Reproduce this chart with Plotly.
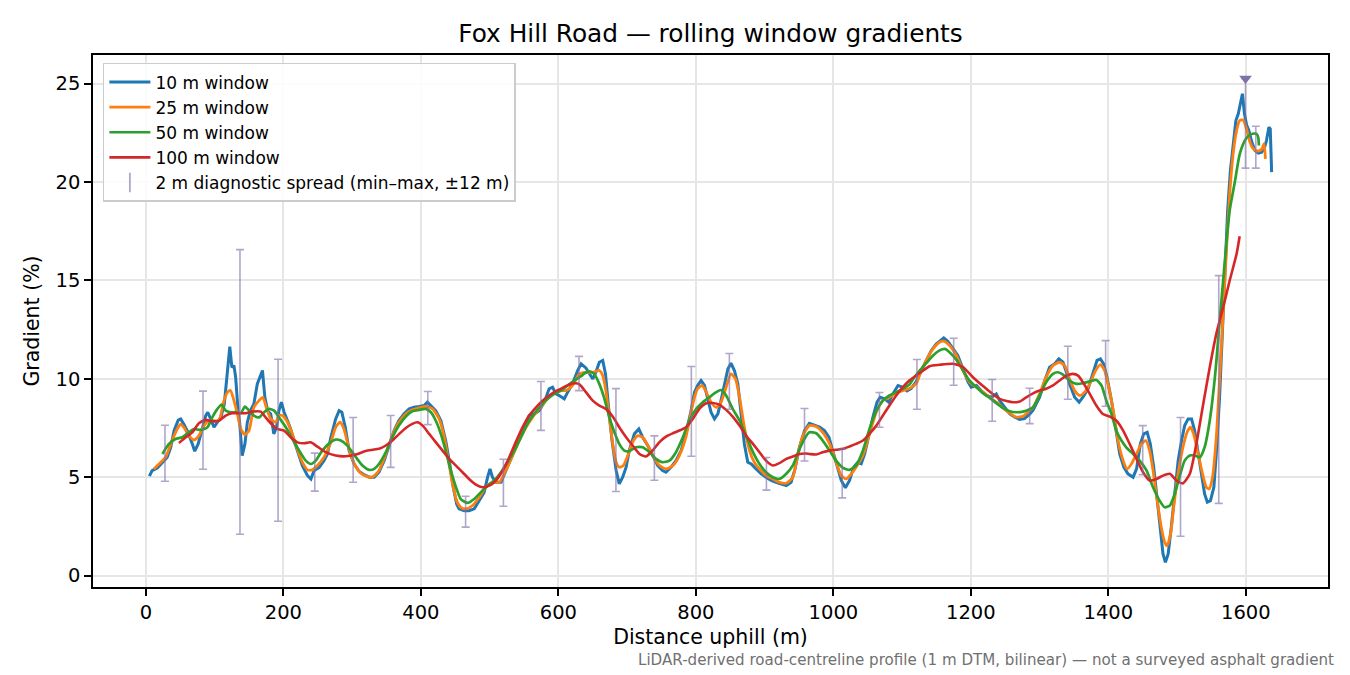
import plotly.graph_objects as go

# ---------------- data ----------------
W10_D = [5, 9, 16.5, 24, 31, 36, 41, 47, 50.5, 55, 60, 67.5, 71, 76, 82, 87, 90, 94, 99, 104, 109, 114, 118, 122, 125, 128, 130.5, 134, 136.5, 140, 144, 147.5, 152, 157, 162, 165.5, 169.5, 173, 177, 181.5, 186, 190, 193.5, 197, 201, 206, 210.5, 215.5, 222, 227.5, 235, 240, 244.5, 252, 259, 264, 269, 276, 281, 285, 290, 295.5, 303, 310, 317, 325, 332, 339, 346.5, 354, 361, 368, 375.5, 383, 390, 397.5, 404.5, 409.5, 414.5, 421.5, 429, 436, 442, 447, 452, 455.5, 463, 470, 477.5, 485, 492, 497, 500.5, 504, 509, 516.5, 523.5, 531, 538, 545.5, 553, 557.5, 565, 572, 579.5, 586.5, 591.5, 596.5, 601, 608.5, 613.5, 620.5, 628, 633, 640, 645, 650, 654.5, 659.5, 664.5, 668.5, 673, 678, 684, 688.5, 693.5, 698.5, 703, 710.5, 717, 722.5, 730, 737, 744.5, 751.5, 756.5, 764, 771, 778.5, 785.5, 793, 798, 802.5, 807.5, 812.5, 817, 822, 827, 832, 836.5, 841.5, 846.5, 851, 856, 861, 866, 870.5, 875.5, 880.5, 887.5, 895, 902, 909.5, 916.5, 924, 931.5, 938.5, 944, 950.5, 958, 965, 972.5, 980, 987, 993.5, 999, 1005, 1011.5, 1017.5, 1023.5, 1029.5, 1035.5, 1040.5, 1045.5, 1051.5, 1057.5, 1063.5, 1068, 1074.5, 1080.5, 1086.5, 1094, 1101, 1107, 1113, 1120.5, 1128, 1135, 1142.5, 1149.5, 1157, 1160.5, 1166.5, 1174, 1181, 1188.5, 1196, 1200.5, 1208, 1215, 1222.5, 1230, 1237, 1242, 1249, 1256.5, 1264, 1271, 1278, 1285.5, 1290.5, 1300, 1307.5, 1314.5, 1322, 1328, 1334, 1339, 1343.5, 1351, 1357.5, 1363, 1370.5, 1377.5, 1383.5, 1388.5, 1393, 1398, 1404.5, 1410.5, 1416.5, 1422.5, 1428.5, 1436, 1441, 1446.5, 1451.5, 1456.5, 1461, 1466, 1471, 1475.5, 1479.5, 1483, 1487, 1491.5, 1496.5, 1501.5, 1506.5, 1511, 1516, 1521, 1525.5, 1530.5, 1535.5, 1540, 1544, 1548.5, 1553.5, 1558, 1562, 1566, 1570, 1573.5, 1577.5, 1581.5, 1585.5, 1589, 1592.5, 1595, 1598, 1601, 1604.5, 1608, 1613, 1618, 1623, 1626.5, 1630, 1633.5, 1635.5, 1637.5]
W10_G = [5.05, 5.33, 5.47, 5.76, 6.01, 6.5, 7.37, 7.9, 7.96, 7.7, 7.37, 6.69, 6.32, 6.69, 7.54, 8.13, 8.3, 7.96, 7.54, 7.79, 8.04, 8.72, 10.25, 11.63, 10.58, 10.67, 10.08, 8.38, 7.7, 6.1, 6.69, 7.79, 8.38, 8.72, 9.74, 10.08, 10.42, 9.06, 8.38, 8.21, 7.2, 7.54, 8.38, 8.81, 8.3, 7.87, 7.45, 6.86, 6.18, 5.59, 5.08, 4.91, 5.33, 5.5, 5.84, 6.18, 7.03, 7.96, 8.38, 8.3, 7.54, 6.35, 5.67, 5.3, 5.13, 5.0, 5.0, 5.25, 5.84, 6.69, 7.37, 7.88, 8.22, 8.47, 8.55, 8.59, 8.64, 8.81, 8.64, 8.38, 7.88, 6.86, 5.67, 4.49, 3.64, 3.39, 3.3, 3.3, 3.39, 3.81, 4.23, 5.0, 5.42, 5.0, 4.74, 4.74, 5.34, 5.93, 6.52, 7.11, 7.79, 8.13, 8.22, 8.38, 8.81, 9.49, 9.57, 9.23, 9.15, 8.98, 9.32, 9.74, 10.42, 10.76, 10.55, 10.25, 9.99, 10.33, 10.84, 10.93, 10.25, 8.55, 6.86, 5.34, 4.66, 5.0, 5.51, 6.35, 7.2, 7.45, 7.03, 6.61, 6.1, 5.59, 5.34, 5.25, 5.51, 5.84, 6.35, 7.2, 8.38, 9.32, 9.66, 9.91, 9.66, 9.06, 8.3, 7.96, 8.22, 8.89, 9.74, 10.5, 10.79, 10.42, 9.74, 8.22, 6.69, 5.76, 5.67, 5.42, 5.17, 5.0, 4.83, 4.74, 4.66, 4.57, 4.74, 5.4, 6.5, 7.37, 7.74, 7.62, 7.54, 7.37, 7.03, 6.35, 5.59, 4.83, 4.46, 4.83, 5.51, 5.76, 5.68, 6.18, 7.11, 8.05, 8.81, 9.06, 8.98, 8.81, 9.23, 9.66, 9.57, 9.38, 9.5, 9.85, 10.42, 10.93, 11.44, 11.77, 11.98, 12.08, 11.91, 11.52, 11.18, 10.5, 9.83, 9.57, 9.66, 9.4, 9.15, 9.06, 9.23, 8.89, 8.55, 8.22, 8.05, 7.93, 7.98, 8.2, 8.4, 9.06, 9.91, 10.59, 10.76, 11.01, 10.84, 10.33, 9.74, 9.06, 8.81, 9.06, 9.49, 10.25, 10.93, 11.01, 10.76, 10.08, 8.89, 7.54, 6.18, 5.51, 5.17, 5.0, 5.42, 6.69, 7.2, 7.28, 6.69, 5.51, 3.81, 2.12, 1.1, 0.67, 1.1, 2.45, 4.15, 5.84, 6.86, 7.62, 7.96, 7.96, 7.37, 6.18, 5.0, 4.15, 3.73, 3.81, 4.49, 6.69, 9.23, 12.62, 16.01, 18.55, 20.58, 21.94, 23.12, 23.46, 24.14, 24.48, 23.46, 22.9, 22.6, 22.1, 21.6, 21.46, 21.51, 21.68, 22.1, 22.78, 22.7, 20.5]

W25_D = [11.5, 19, 28.5, 38, 45.5, 50.5, 55, 62.5, 70, 77, 84.5, 91.5, 99, 106, 113.5, 118.5, 123, 128, 133, 138, 144, 150, 157, 164.5, 170, 175, 181.5, 189, 193.5, 198.5, 206, 213, 220, 227.5, 235, 242, 249.5, 259, 269, 276, 282.5, 288, 295.5, 303, 312.5, 320, 329.5, 339, 349, 358.5, 368, 378, 387.5, 397.5, 407, 417, 426.5, 434, 440, 446, 452, 458, 465.5, 475, 485, 494.5, 504, 514, 523.5, 533.5, 543, 553, 562.5, 572, 582, 591.5, 601, 611, 620.5, 630.5, 640, 650, 659.5, 664.5, 669, 674, 679, 684, 688.5, 694.5, 701, 708, 715.5, 722.5, 730, 737, 747, 756.5, 766.5, 776, 785.5, 795.5, 802.5, 809, 815, 822, 829.5, 836.5, 844, 851, 857.5, 863.5, 870.5, 878, 885, 892.5, 902, 912, 921.5, 931.5, 941, 948, 955.5, 965, 975, 984.5, 994.5, 1004, 1011.5, 1018.5, 1026, 1033, 1043, 1052.5, 1062.5, 1072, 1081.5, 1091.5, 1101, 1110.5, 1120.5, 1125.5, 1135, 1145, 1154.5, 1160.5, 1169, 1179, 1188.5, 1198, 1208, 1217.5, 1227.5, 1237, 1246.5, 1256.5, 1266, 1276, 1285.5, 1290.5, 1300, 1309.5, 1319.5, 1329, 1336.5, 1343.5, 1351, 1358.5, 1365.5, 1373, 1381.5, 1388.5, 1394.5, 1401, 1408, 1414, 1421.5, 1427, 1433.5, 1441, 1448, 1454.5, 1460, 1465, 1471, 1477, 1482, 1485.5, 1490.5, 1495, 1501.5, 1508.5, 1514.5, 1519.5, 1524, 1530.5, 1537, 1542.5, 1546.5, 1551.5, 1557, 1562, 1567, 1572, 1576.5, 1581.5, 1586.5, 1591, 1596, 1601, 1606, 1610.5, 1615.5, 1620.5, 1624, 1626.5, 1628.5]
W25_G = [5.42, 5.67, 6.01, 6.86, 7.45, 7.7, 7.54, 7.11, 6.89, 7.11, 7.62, 7.87, 7.87, 7.87, 8.89, 9.31, 9.4, 8.89, 8.21, 7.45, 7.16, 7.37, 8.55, 8.89, 9.06, 8.55, 7.96, 7.79, 8.13, 8.13, 7.79, 7.2, 6.44, 5.76, 5.37, 5.37, 5.59, 6.01, 6.77, 7.54, 7.79, 7.45, 6.44, 5.67, 5.2, 5.05, 5.0, 5.34, 6.18, 7.11, 7.79, 8.22, 8.42, 8.52, 8.59, 8.47, 7.96, 7.03, 5.84, 4.66, 3.81, 3.47, 3.39, 3.56, 3.98, 4.49, 4.74, 4.74, 5.34, 6.1, 6.86, 7.54, 8.05, 8.47, 8.89, 9.23, 9.4, 9.4, 9.66, 10.25, 10.33, 10.33, 10.42, 10.16, 9.4, 8.05, 6.69, 5.76, 5.51, 5.59, 6.1, 6.78, 7.11, 7.03, 6.61, 6.1, 5.59, 5.42, 5.59, 6.1, 7.03, 8.72, 9.49, 9.66, 9.32, 8.81, 8.55, 8.81, 9.57, 10.25, 9.99, 9.06, 7.54, 6.35, 5.76, 5.42, 5.08, 4.91, 4.74, 4.69, 5.0, 6.1, 7.1, 7.62, 7.57, 7.28, 6.69, 5.76, 5.08, 4.91, 5.17, 5.51, 6.1, 7.2, 8.3, 8.89, 9.06, 9.27, 9.4, 9.5, 9.75, 10.2, 10.93, 11.52, 11.86, 11.91, 11.69, 11.18, 10.42, 9.83, 9.57, 9.32, 9.06, 8.81, 8.52, 8.25, 8.05, 8.1, 8.4, 8.55, 9.23, 10.08, 10.67, 10.84, 10.67, 9.99, 9.4, 9.15, 9.32, 9.74, 10.42, 10.72, 10.42, 9.49, 8.21, 6.86, 5.84, 5.42, 5.67, 6.18, 6.69, 6.86, 6.35, 5.34, 3.81, 2.45, 1.69, 1.52, 2.12, 3.47, 5.17, 6.52, 7.28, 7.54, 7.2, 6.18, 5.17, 4.49, 4.4, 5.0, 7.03, 10.08, 13.3, 16.68, 19.39, 21.43, 22.61, 23.12, 23.15, 22.7, 22.02, 21.7, 21.58, 21.6, 21.73, 21.94, 21.17]

W50_D = [24, 33.5, 43, 53, 62.5, 70, 79.5, 89.5, 96.5, 104, 110, 116, 123, 130.5, 138, 144, 150, 157, 164.5, 172, 179, 186.5, 193.5, 203.5, 213, 223, 232.5, 240, 247, 256.5, 266.5, 276, 283.5, 293, 305.5, 315, 324.5, 332, 339, 349, 358.5, 368, 378, 387.5, 397.5, 407, 414.5, 421.5, 429, 436, 443.5, 451, 458, 468, 477.5, 487, 497, 506.5, 516.5, 526, 536, 545.5, 555, 565, 574.5, 584.5, 594, 603.5, 613.5, 623, 633, 638, 645, 652, 659.5, 667, 674, 681.5, 688.5, 696, 703, 713, 722.5, 732.5, 742, 751.5, 761.5, 771, 781, 790.5, 800.5, 810, 819.5, 829.5, 836.5, 844, 853.5, 863.5, 873, 883, 892.5, 902, 912, 921.5, 931.5, 941, 951, 958, 965, 975, 984.5, 994.5, 1004, 1014, 1023.5, 1033, 1043, 1052.5, 1062.5, 1072, 1081.5, 1091.5, 1101, 1106, 1111, 1116, 1125.5, 1135, 1145, 1154.5, 1162, 1169, 1179, 1188.5, 1198, 1208, 1217.5, 1227.5, 1237, 1246.5, 1256.5, 1266, 1276, 1285.5, 1290.5, 1300, 1309.5, 1319.5, 1326.5, 1334, 1343.5, 1353.5, 1363, 1373, 1382.5, 1390, 1397, 1404.5, 1411.5, 1419, 1426, 1436, 1445.5, 1455.5, 1465, 1474.5, 1482, 1489.5, 1496.5, 1504, 1511, 1518.5, 1525.5, 1533, 1540, 1547.5, 1555, 1562, 1569.5, 1576.5, 1584, 1591, 1598.5, 1604, 1610, 1615.5, 1618, 1619]
W50_G = [6.18, 6.69, 6.94, 7.03, 7.28, 7.45, 7.4, 7.54, 8.04, 8.47, 8.69, 8.38, 8.3, 8.3, 8.25, 8.59, 8.38, 8.13, 8.04, 8.3, 8.47, 8.38, 8.04, 7.54, 6.94, 6.35, 5.84, 5.67, 5.84, 6.35, 6.72, 6.91, 6.86, 6.6, 6.01, 5.59, 5.37, 5.42, 5.67, 6.27, 7.03, 7.62, 8.08, 8.35, 8.42, 8.47, 8.3, 7.88, 7.2, 6.35, 5.34, 4.49, 3.89, 3.69, 3.89, 4.23, 4.57, 4.83, 5.25, 5.76, 6.35, 7.03, 7.71, 8.22, 8.64, 8.98, 9.23, 9.4, 9.66, 9.91, 10.13, 10.28, 10.38, 10.25, 9.74, 8.98, 8.05, 7.28, 6.69, 6.35, 6.32, 6.52, 6.52, 6.27, 5.93, 5.76, 5.84, 6.27, 7.03, 7.88, 8.47, 8.81, 9.06, 9.32, 9.43, 9.15, 8.47, 7.88, 7.11, 6.27, 5.67, 5.25, 5.0, 4.91, 5.17, 5.6, 6.45, 6.95, 7.28, 7.23, 6.86, 6.35, 5.84, 5.47, 5.37, 5.59, 6.35, 7.45, 8.38, 8.89, 9.15, 9.32, 9.49, 9.6, 9.72, 9.99, 10.42, 10.79, 11.18, 11.44, 11.52, 11.35, 10.96, 10.42, 9.91, 9.57, 9.27, 9.03, 8.76, 8.52, 8.35, 8.3, 8.33, 8.45, 8.55, 9.15, 9.82, 10.25, 10.33, 10.21, 9.91, 9.74, 9.77, 9.87, 9.94, 9.66, 8.89, 8.21, 7.37, 6.86, 6.52, 6.18, 5.84, 5.34, 4.49, 3.81, 3.47, 3.56, 4.15, 5.08, 5.84, 6.1, 6.1, 6.01, 6.52, 7.88, 10.08, 12.96, 16.01, 18.55, 20.0, 21.4, 22.1, 22.35, 22.45, 22.44, 22.27, 21.85]

W100_D = [48, 58, 67.5, 77, 87, 96.5, 106.5, 116, 125.5, 135.5, 145, 155, 167, 174, 181.5, 191, 201, 210.5, 220.5, 230, 239.5, 249.5, 261.5, 276, 290.5, 305.5, 319.5, 329.5, 339, 349, 358.5, 368.5, 378, 387.5, 395, 402.5, 412, 421.5, 431.5, 441, 451, 460.5, 470, 480, 489.5, 499.5, 509, 519, 528.5, 538, 548, 557.5, 567.5, 577, 586.5, 596.5, 606, 616, 625.5, 631, 640, 650, 659.5, 669, 679, 688.5, 698.5, 708, 718, 727.5, 737, 747, 756.5, 766.5, 776, 785.5, 795.5, 805, 815, 824.5, 834, 844, 853.5, 863.5, 873, 883, 892.5, 902, 912, 921.5, 931.5, 941, 950.5, 960, 965, 975, 984.5, 994.5, 1004, 1014, 1023.5, 1033, 1043, 1052.5, 1062.5, 1072, 1081.5, 1091.5, 1101, 1110.5, 1120.5, 1140, 1154.5, 1174, 1188.5, 1203, 1222.5, 1242, 1261.5, 1271, 1280.5, 1290.5, 1300, 1309.5, 1319.5, 1329, 1339, 1348.5, 1356, 1363, 1373, 1382.5, 1392, 1402, 1411.5, 1421.5, 1431, 1441, 1450.5, 1460, 1470, 1479.5, 1489.5, 1499, 1508.5, 1518.5, 1528, 1538, 1547.5, 1557, 1567, 1576.5, 1586.5, 1591]
W100_G = [6.74, 7.03, 7.28, 7.74, 7.91, 7.84, 7.87, 8.13, 8.25, 8.25, 8.25, 8.33, 8.33, 8.04, 7.74, 7.45, 7.37, 7.03, 6.77, 6.72, 6.77, 6.55, 6.27, 6.1, 6.06, 6.15, 6.33, 6.39, 6.44, 6.61, 6.86, 7.2, 7.5, 7.71, 7.79, 7.62, 7.2, 6.78, 6.35, 5.93, 5.59, 5.25, 4.91, 4.62, 4.49, 4.57, 4.83, 5.34, 6.01, 6.78, 7.54, 8.13, 8.55, 8.89, 9.15, 9.37, 9.54, 9.71, 9.77, 9.7, 9.32, 8.89, 8.64, 8.47, 8.08, 7.54, 7.03, 6.61, 6.18, 6.05, 6.35, 6.78, 7.06, 7.23, 7.37, 7.54, 7.96, 8.47, 8.76, 8.77, 8.69, 8.42, 8.08, 7.62, 7.11, 6.69, 6.27, 5.84, 5.59, 5.71, 5.93, 6.05, 6.18, 6.2, 6.18, 6.15, 6.27, 6.35, 6.39, 6.44, 6.56, 6.69, 6.86, 7.2, 7.62, 8.13, 8.64, 9.15, 9.57, 9.91, 10.16, 10.64, 10.71, 10.76, 10.59, 10.08, 9.49, 8.98, 8.81, 8.84, 9.06, 9.26, 9.4, 9.49, 9.66, 9.91, 10.16, 10.25, 10.16, 9.82, 9.23, 8.64, 8.21, 8.08, 7.88, 7.37, 6.69, 5.93, 5.25, 4.83, 4.91, 5.08, 5.17, 4.83, 4.69, 5.17, 6.69, 8.72, 10.59, 12.28, 13.63, 14.99, 16.34, 17.24]

# 2 m diagnostic spread (min-max within +-12 m)
SPREAD_D = [27.7, 83, 136.8, 192.2, 245.6, 301.4, 356, 410, 465, 520, 574.6, 630, 683.7, 739.6, 793.4, 848.7, 902.6, 958, 1012.8, 1067, 1121.5, 1175, 1231, 1285.5, 1341, 1396, 1450, 1505, 1560.6, 1599.5, 1614.5]
SPREAD_LO = [4.79, 5.40, 2.10, 2.76, 4.29, 4.74, 5.50, 7.67, 2.46, 3.52, 7.38, 9.40, 4.27, 4.84, 6.06, 8.45, 4.34, 5.82, 3.95, 7.54, 8.45, 9.67, 7.84, 7.72, 8.96, 8.60, 5.12, 2.00, 3.67, 20.70, 20.70]
SPREAD_HI = [7.64, 9.37, 16.56, 10.99, 6.22, 8.03, 8.13, 9.35, 4.03, 5.91, 9.86, 11.14, 9.50, 7.10, 10.62, 11.28, 6.00, 8.49, 6.44, 9.30, 10.98, 12.06, 9.96, 9.52, 11.65, 11.94, 7.62, 8.03, 15.24, 25.25, 22.83]

PEAK_D = [1599.5]
PEAK_G = [25.25]

X_TICKS = [0, 200, 400, 600, 800, 1000, 1200, 1400, 1600]
Y_TICKS = [0, 5, 10, 15, 20, 25]

# ---------------- figure ----------------
FONT = "DejaVu Sans"
SPREAD_COLOR = "rgba(128,112,168,0.62)"
PEAK_COLOR = "#8072a8"

fig = go.Figure()

series = [
    ("10 m window", W10_D, W10_G, "#1f77b4", "linear", 3.0),
    ("25 m window", W25_D, W25_G, "#ff7f0e", "spline", 2.8),
    ("50 m window", W50_D, W50_G, "#2ca02c", "spline", 2.7),
    ("100 m window", W100_D, W100_G, "#d62728", "spline", 2.6),
]
for name, d, g, col, shape, lw in series:
    line = dict(color=col, width=lw, shape=shape)
    if shape == "spline":
        line["smoothing"] = 0.6
    fig.add_trace(go.Scatter(x=d, y=g, mode="lines", name=name, line=line))

fig.add_trace(go.Scatter(
    x=SPREAD_D, y=SPREAD_LO, mode="markers", showlegend=False,
    marker=dict(size=1, color="rgba(0,0,0,0)"),
    error_y=dict(type="data", symmetric=False,
                 array=[h - l for h, l in zip(SPREAD_HI, SPREAD_LO)],
                 arrayminus=[0] * len(SPREAD_LO),
                 color=SPREAD_COLOR, thickness=1.6, width=4),
))
# legend entry for the spread
fig.add_trace(go.Scatter(
    x=[None], y=[None], mode="markers", name="2 m diagnostic spread (min–max, ±12 m)",
    marker=dict(symbol="line-ns-open", size=14, color=SPREAD_COLOR,
                line=dict(color=SPREAD_COLOR, width=1.8)),
))
fig.add_trace(go.Scatter(
    x=PEAK_D, y=PEAK_G, mode="markers", showlegend=False,
    marker=dict(symbol="triangle-down", size=11, color=PEAK_COLOR),
))

axis_common = dict(
    showline=True, mirror=True, linecolor="black", linewidth=1.6,
    ticks="outside", ticklen=7, tickwidth=1.6, tickcolor="black",
    showgrid=True, gridcolor="#e6e6e6", gridwidth=1.5,
    zeroline=False, tickfont=dict(family=FONT, size=19.5, color="black"),
)

# the page adds an 8 px body margin, so the figure is drawn 8 px smaller
fig.update_layout(
    width=1342, height=667,
    margin=dict(l=85, r=22, t=47, b=88),
    paper_bgcolor="white", plot_bgcolor="white",
    font=dict(family=FONT, color="black"),
    title=dict(text="Fox Hill Road — rolling window gradients",
               x=0.5235, xanchor="center", y=0.9625, yanchor="middle",
               font=dict(family=FONT, size=24.8, color="black")),
    xaxis=dict(range=[-77, 1719.5], tickvals=X_TICKS,
               title=dict(text="Distance uphill (m)", standoff=6,
                          font=dict(family=FONT, size=20.5)),
               **axis_common),
    yaxis=dict(range=[-0.58, 26.45], tickvals=Y_TICKS,
               title=dict(text="Gradient (%)", standoff=10,
                          font=dict(family=FONT, size=20.5)),
               **axis_common),
    legend=dict(x=0.008, y=0.985, xanchor="left", yanchor="top",
                bgcolor="rgba(255,255,255,0.85)", bordercolor="#cccccc",
                borderwidth=1.5, font=dict(family=FONT, size=17),
                tracegroupgap=0, itemwidth=41),
    showlegend=True,
)

fig.add_annotation(
    text="LiDAR-derived road-centreline profile (1 m DTM, bilinear) — not a surveyed asphalt gradient",
    xref="paper", yref="paper", x=1.0065, y=-0.137, xanchor="right", yanchor="middle",
    showarrow=False, font=dict(family=FONT, size=15.1, color="#707070"),
)

fig.write_html("out.html")
